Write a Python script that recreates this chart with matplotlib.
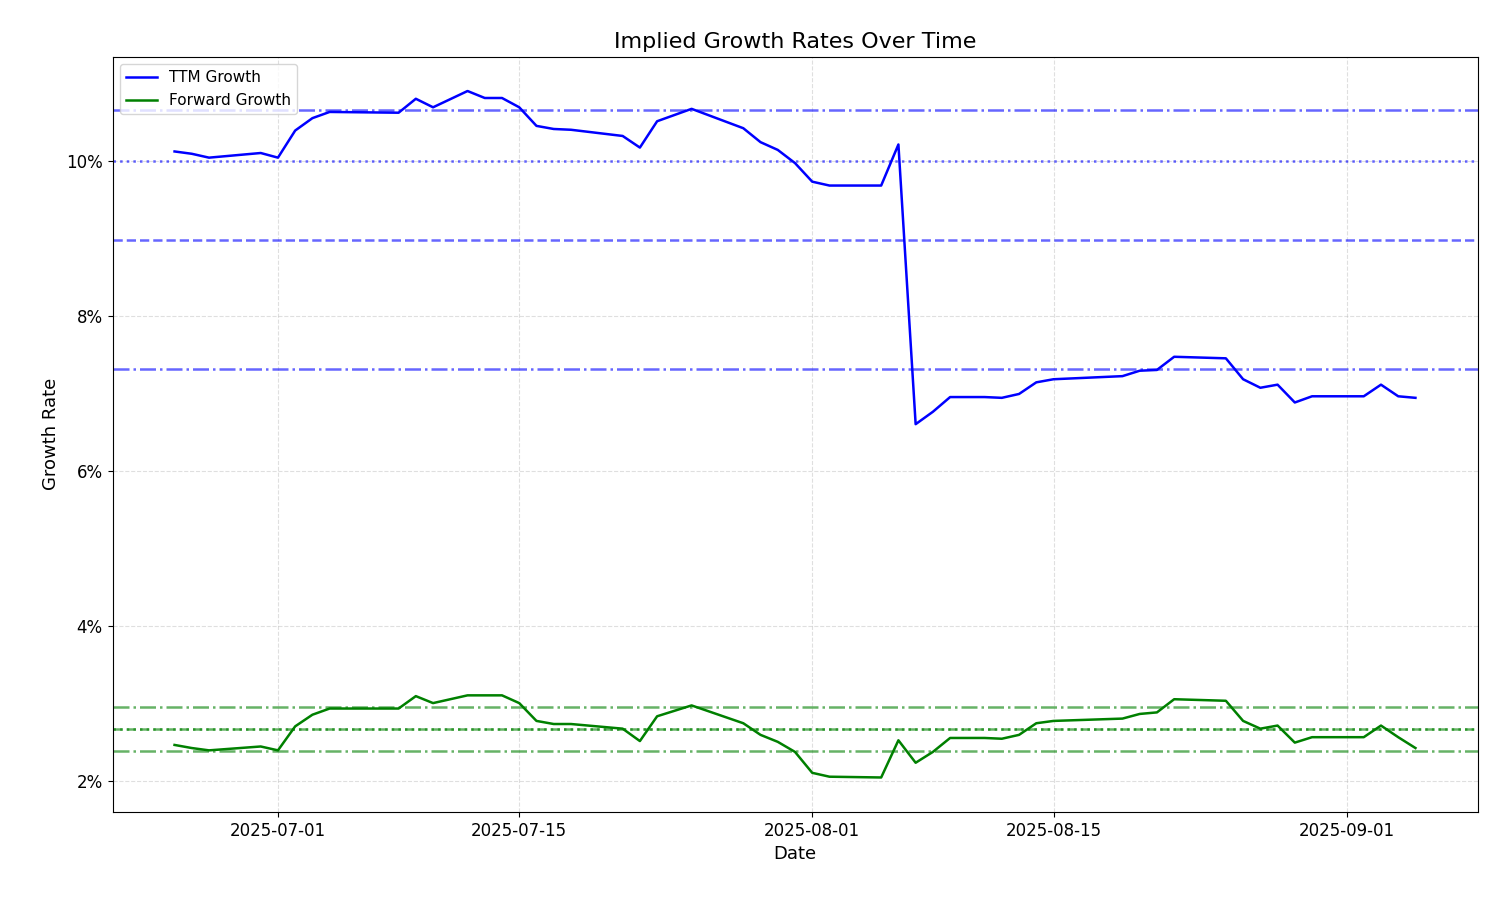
import matplotlib
matplotlib.use("Agg")
import matplotlib.pyplot as plt
import matplotlib.dates as mdates
import matplotlib.ticker as mticker
import pandas as pd

dates = ["2025-06-25","2025-06-26","2025-06-27","2025-06-30","2025-07-01","2025-07-02","2025-07-03","2025-07-04",
         "2025-07-08","2025-07-09","2025-07-10","2025-07-12","2025-07-13","2025-07-14","2025-07-15","2025-07-16",
         "2025-07-17","2025-07-18","2025-07-21","2025-07-22","2025-07-23","2025-07-25","2025-07-28","2025-07-29",
         "2025-07-30","2025-07-31","2025-08-01","2025-08-02","2025-08-05","2025-08-06","2025-08-07","2025-08-08",
         "2025-08-09","2025-08-11","2025-08-12","2025-08-13","2025-08-14","2025-08-15","2025-08-19","2025-08-20",
         "2025-08-21","2025-08-22","2025-08-25","2025-08-26","2025-08-27","2025-08-28","2025-08-29","2025-08-30",
         "2025-09-02","2025-09-03","2025-09-04","2025-09-05"]
ttm_growth = [10.12,10.09,10.04,10.10,10.04,10.39,10.55,10.63,10.62,10.80,10.69,10.90,10.81,10.81,10.69,10.45,
              10.41,10.40,10.32,10.17,10.51,10.67,10.42,10.24,10.14,9.97,9.73,9.68,9.68,10.21,6.60,6.76,
              6.95,6.95,6.94,6.99,7.14,7.18,7.22,7.29,7.30,7.47,7.45,7.18,7.07,7.11,6.88,6.96,
              6.96,7.11,6.96,6.94]
fwd_growth = [2.46,2.42,2.39,2.44,2.39,2.70,2.85,2.93,2.93,3.09,3.00,3.10,3.10,3.10,3.00,2.77,
              2.73,2.73,2.67,2.51,2.83,2.97,2.74,2.59,2.50,2.37,2.10,2.05,2.04,2.52,2.23,2.37,
              2.55,2.55,2.54,2.59,2.74,2.77,2.80,2.86,2.88,3.05,3.03,2.77,2.67,2.71,2.49,2.56,
              2.56,2.71,2.56,2.42]
ttm_lines = {"upper": 10.66, "mean": 10.00, "median": 8.98, "lower": 7.31}
fwd_lines = {"upper": 2.95, "mean": 2.67, "median": 2.66, "lower": 2.38}
styles = {"upper": "-.", "mean": ":", "median": "--", "lower": "-."}

x = pd.to_datetime(dates)
fig, ax = plt.subplots(figsize=(15, 9), dpi=100)
ax.plot(x, [v/100 for v in ttm_growth], color="blue", lw=1.8, label="TTM Growth")
ax.plot(x, [v/100 for v in fwd_growth], color="green", lw=1.8, label="Forward Growth")
for k, v in ttm_lines.items():
    ax.axhline(v/100, color="blue", ls=styles[k], alpha=0.6, lw=1.8)
for k, v in fwd_lines.items():
    ax.axhline(v/100, color="green", ls=styles[k], alpha=0.6, lw=1.8)
ax.yaxis.set_major_formatter(mticker.PercentFormatter(1.0, decimals=0))
ax.xaxis.set_major_locator(mdates.DayLocator(bymonthday=[1, 15]))
ax.xaxis.set_major_formatter(mdates.DateFormatter("%Y-%m-%d"))
ax.grid(True, ls="--", alpha=0.4)
ax.set_title("Implied Growth Rates Over Time", fontsize=16)
ax.set_xlabel("Date", fontsize=13)
ax.set_ylabel("Growth Rate", fontsize=13)
ax.tick_params(labelsize=12)
ax.legend(loc="upper left", fontsize=11)
fig.subplots_adjust(left=0.075, right=0.985, top=0.937, bottom=0.098)
fig.savefig("out.png")
